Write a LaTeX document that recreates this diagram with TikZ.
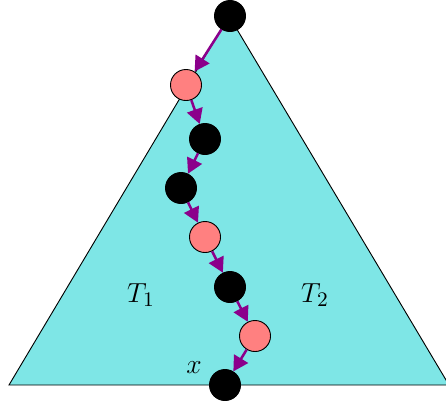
\documentclass[tikz,border=0pt]{standalone}
\usetikzlibrary{arrows.meta}
\definecolor{tri}{RGB}{126,230,230}
\definecolor{arr}{RGB}{139,0,139}
\definecolor{salm}{RGB}{255,128,128}
\begin{document}
\begin{tikzpicture}[x=0.435pt,y=-0.435pt,
  blk/.style={circle,draw=black,fill=black,inner sep=0pt,minimum size=13.5pt},
  red/.style={circle,draw=black,fill=salm,inner sep=0pt,minimum size=13.5pt,line width=0.4pt},
  lbl/.style={font=\fontsize{12.5}{15}\selectfont},
  link/.style={draw=arr,line width=1.1pt,-{Triangle[length=6.5pt,width=7pt]}}]
\useasboundingbox (0,0) rectangle (446,406);
\begin{scope}
\clip (0,0) rectangle (446,406);
\draw[fill=tri,line width=0.4pt] (9,385) -- (229,16) -- (449,385) -- cycle;
\end{scope}
\node[blk] (n1) at (230,16) {};
\node[red] (n2) at (186,85) {};
\node[blk] (n3) at (205,139) {};
\node[blk] (n4) at (181,188) {};
\node[red] (n5) at (205,237) {};
\node[blk] (n6) at (230,287) {};
\node[red] (n7) at (255,336) {};
\node[blk] (n8) at (225,385) {};
\node[lbl] (lx) at (194,368) {$x$};
\node[lbl] (t1) at (141,295) {$T_1$};
\node[lbl] (t2) at (315,295) {$T_2$};
\draw[link] (n1) -- (n2);
\draw[link] (n2) -- (n3);
\draw[link] (n3) -- (n4);
\draw[link] (n4) -- (n5);
\draw[link] (n5) -- (n6);
\draw[link] (n6) -- (n7);
\draw[link] (n7) -- (n8);
\end{tikzpicture}
\end{document}
